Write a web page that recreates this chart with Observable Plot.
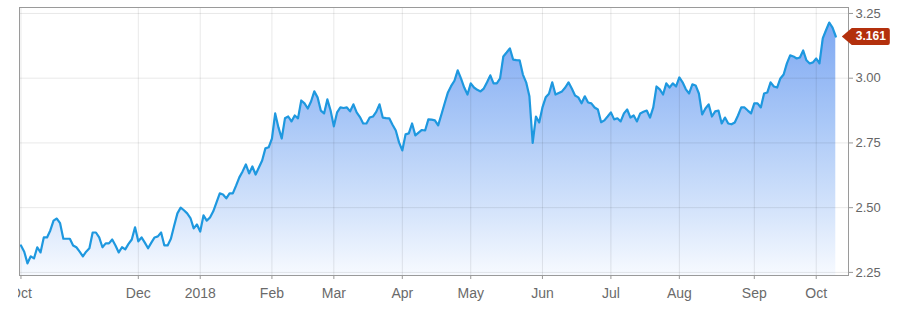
<!DOCTYPE html>
<html><head><meta charset="utf-8">
<script src="https://cdn.jsdelivr.net/npm/d3@7"></script>
<script src="https://cdn.jsdelivr.net/npm/@observablehq/plot@0.6"></script>
<style>
html,body{margin:0;padding:0;background:#fff;}
#chart svg{display:block;clip-path:inset(0 0 0 18px);}
</style></head><body><div id="chart"></div>
<script>
// 10-year yield, one value per trading day from Oct 10 2017 to Oct 10 2018
const yields = [
2.354,2.33,2.285,2.312,2.304,2.347,2.327,2.385,2.385,2.412,
2.45,2.458,2.44,2.38,2.38,2.38,2.354,2.347,2.33,2.312,
2.33,2.343,2.404,2.404,2.385,2.347,2.362,2.362,2.377,2.354,
2.327,2.347,2.339,2.36,2.377,2.424,2.37,2.385,2.365,2.343,
2.365,2.385,2.389,2.404,2.354,2.354,2.38,2.43,2.478,2.50,
2.49,2.478,2.46,2.42,2.435,2.408,2.47,2.45,2.462,2.486,
2.52,2.555,2.551,2.536,2.555,2.555,2.585,2.617,2.64,2.667,
2.632,2.659,2.628,2.655,2.682,2.729,2.733,2.767,2.864,2.81,
2.767,2.845,2.852,2.833,2.856,2.845,2.914,2.903,2.883,2.91,
2.949,2.926,2.875,2.864,2.918,2.875,2.814,2.868,2.887,2.885,
2.887,2.872,2.899,2.868,2.85,2.825,2.825,2.848,2.852,2.87,
2.899,2.848,2.846,2.845,2.82,2.798,2.752,2.721,2.783,2.787,
2.825,2.779,2.79,2.80,2.798,2.841,2.84,2.837,2.818,2.86,
2.903,2.945,2.97,2.99,3.03,2.999,2.964,2.937,2.98,2.964,
2.955,2.949,2.96,2.984,3.011,2.98,2.98,2.999,3.084,3.099,
3.115,3.072,3.07,3.069,3.014,2.984,2.93,2.75,2.852,2.829,
2.887,2.926,2.94,2.984,2.937,2.943,2.949,2.964,2.984,2.96,
2.933,2.926,2.903,2.93,2.906,2.903,2.887,2.879,2.83,2.837,
2.852,2.868,2.841,2.845,2.833,2.864,2.879,2.848,2.856,2.833,
2.864,2.87,2.875,2.848,2.887,2.968,2.957,2.937,2.98,2.964,
2.98,2.968,3.003,2.984,2.957,2.941,2.976,2.972,2.941,2.86,
2.883,2.899,2.852,2.872,2.875,2.825,2.848,2.825,2.822,2.829,
2.856,2.887,2.887,2.875,2.864,2.903,2.903,2.887,2.941,2.945,
2.984,2.968,2.964,2.999,3.014,3.057,3.088,3.084,3.076,3.08,
3.107,3.069,3.057,3.061,3.076,3.057,3.154,3.185,3.215,3.195,
3.161
];
// trading-day index of each month label
const tickDays = [0, 36, 55, 77, 96, 117, 138, 160, 181, 202, 225, 244];
const tickLabels = ["Oct", "Dec", "2018", "Feb", "Mar", "Apr", "May", "Jun", "Jul", "Aug", "Sep", "Oct"];
const yTicks = [2.25, 2.50, 2.75, 3.00, 3.25];
const xDomain = [-0.45, 253.9];
const yDomain = [2.238, 3.273];

const data = yields.map((v, i) => ({day: i, v}));
const last = data[data.length - 1];
const labelOf = new Map(tickDays.map((d, i) => [d, tickLabels[i]]));

const gradient = () => {
  const ns = "http://www.w3.org/2000/svg";
  const defs = document.createElementNS(ns, "defs");
  const lg = document.createElementNS(ns, "linearGradient");
  lg.setAttribute("id", "areaFill");
  lg.setAttribute("x1", "0"); lg.setAttribute("y1", "0");
  lg.setAttribute("x2", "0"); lg.setAttribute("y2", "1");
  [["0%", "#7ea8f2"], ["40%", "#aac8f7"], ["75%", "#d5e4fb"], ["100%", "#f7faff"]].forEach(([o, c]) => {
    const s = document.createElementNS(ns, "stop");
    s.setAttribute("offset", o); s.setAttribute("stop-color", c);
    lg.appendChild(s);
  });
  defs.appendChild(lg);
  return defs;
};

const badge = {
  draw(ctx) {
    ctx.moveTo(0, 0);
    ctx.lineTo(10, -8.5);
    ctx.lineTo(46, -8.5);
    ctx.quadraticCurveTo(48, -8.5, 48, -6.5);
    ctx.lineTo(48, 6.5);
    ctx.quadraticCurveTo(48, 8.5, 46, 8.5);
    ctx.lineTo(10, 8.5);
    ctx.closePath();
  }
};

const chart = Plot.plot({
  width: 900,
  height: 313,
  marginTop: 7,
  marginBottom: 38,
  marginLeft: 19,
  marginRight: 52,
  x: {type: "linear", domain: xDomain, axis: null},
  y: {domain: yDomain, axis: null},
  style: {fontFamily: "'Liberation Sans', Arial, sans-serif", color: "#666", background: "#fff", overflow: "visible"},
  marks: [
    gradient,
    Plot.areaY(data, {x: "day", y1: yDomain[0], y2: "v", fill: "url(#areaFill)"}),
    Plot.gridX(tickDays, {stroke: "#000", strokeOpacity: 0.09}),
    Plot.gridY(yTicks, {stroke: "#000", strokeOpacity: 0.09}),
    Plot.line(data, {x: "day", y: "v", stroke: "#1e98df", strokeWidth: 2.2}),
    Plot.frame({stroke: "#9a9a9a"}),
    Plot.axisX({ticks: tickDays, tickFormat: d => labelOf.get(d), label: null, tickSize: 4, tickPadding: 9, fontSize: 14, stroke: "#999", fill: "#6a6a6a"}),
    Plot.axisY({anchor: "right", ticks: yTicks, tickFormat: d => d.toFixed(2), label: null, tickSize: 4, tickPadding: 3, fontSize: 13, stroke: "#999", fill: "#666"}),
    Plot.dot([last], {x: "day", y: "v", symbol: badge, fill: "#b3300d", stroke: "none", dx: 6}),
    Plot.text([last], {x: "day", y: "v", text: d => d.v.toFixed(3), dx: 35, fill: "#fff", fontWeight: "bold", fontSize: 12})
  ]
});
document.getElementById("chart").appendChild(chart);
</script></body></html>
